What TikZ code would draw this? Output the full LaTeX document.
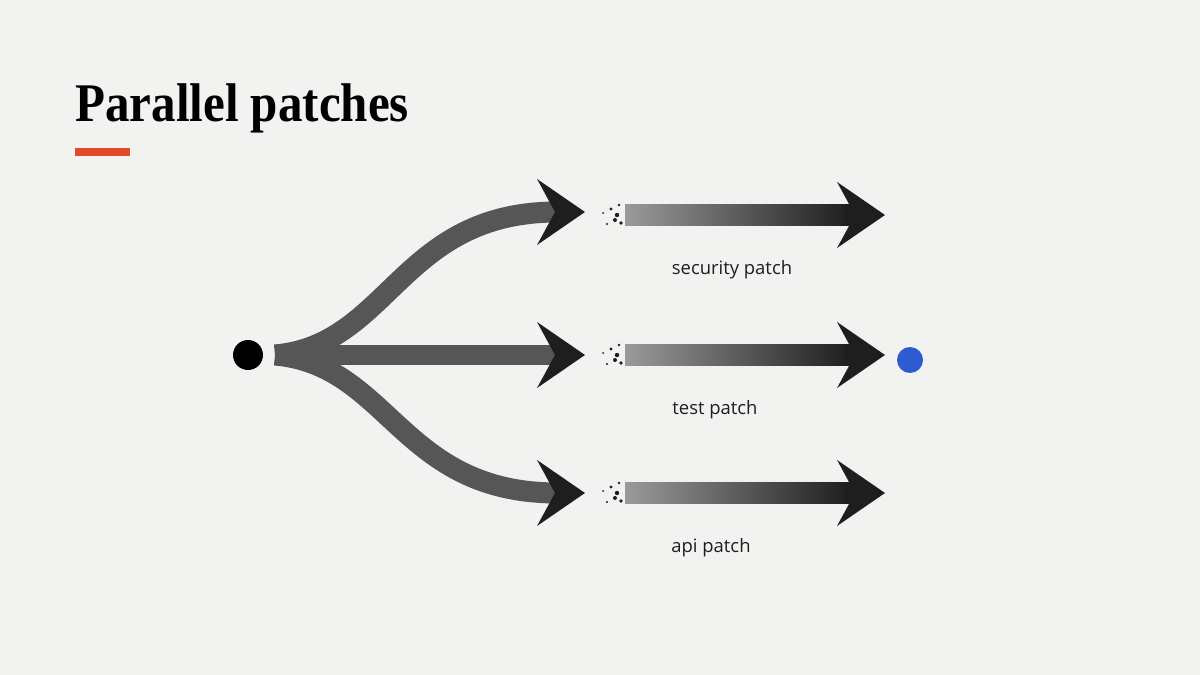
\documentclass[tikz,border=0pt]{standalone}
\usepackage{fontspec}
\setmainfont{Liberation Serif}
\setsansfont{Open Sans}
\usetikzlibrary{arrows.meta,positioning}
\definecolor{paper}{HTML}{F2F2F0}
\definecolor{accent}{HTML}{E04A2A}
\definecolor{goal}{HTML}{2D5BD0}
\definecolor{ink}{HTML}{1E1E1E}
\tikzset{
	brush/.style={line width=0.42cm, draw=ink!75, -{Stealth[length=0.95cm,width=1.3cm,inset=0.35cm,color=ink]}},
	patchlabel/.style={font=\sffamily\fontsize{10.5}{12}\selectfont, text=ink}
}
\begin{document}
\begin{tikzpicture}[x=0.02cm,y=-0.02cm]
		\fill[paper] (0,0) rectangle (1200,675);
		%title
		\node[anchor=base west, inner sep=0, font=\bfseries\fontsize{31}{36}\selectfont] (title) at (75,122){\scalebox{0.9}[1]{Parallel patches}};
		\draw[accent, line width=4pt] (75,152) -- (130,152);
		
		\node[circle, fill=black, inner sep=0, minimum size=0.6cm] (start) at (248,355){};
		\coordinate (fork) at (275,355);
		\node[circle, fill=goal, inner sep=0, minimum size=0.52cm] (goal) at (910,360){};
		
		%fan out
		\draw[brush] (fork) .. controls (390,345) and (400,212) .. (585,212);
		\draw[brush] (fork) -- (585,355);
		\draw[brush] (fork) .. controls (390,365) and (400,493) .. (585,493);
		
		%patches
		\foreach \y/\txt/\lx in {215/security patch/732, 355/test patch/715, 493/api patch/711}{
			\shade[left color=ink!45, right color=ink] (625,\y-10.5) rectangle (850,\y+10.5);
			\draw[brush, draw=ink] (845,\y) -- (885,\y);
			\foreach \dx/\dy/\r in {-14/-6/1.6, -10/5/2, -18/9/1.2, -6/-10/1.4, -22/-2/1, -4/8/1.8, -8/0/2.2}{
				\fill[ink] (625+\dx,\y+\dy) circle (\r);
			}
			\node[patchlabel] at (\lx,\y+55){\txt};
		}
	\end{tikzpicture}
\end{document}
